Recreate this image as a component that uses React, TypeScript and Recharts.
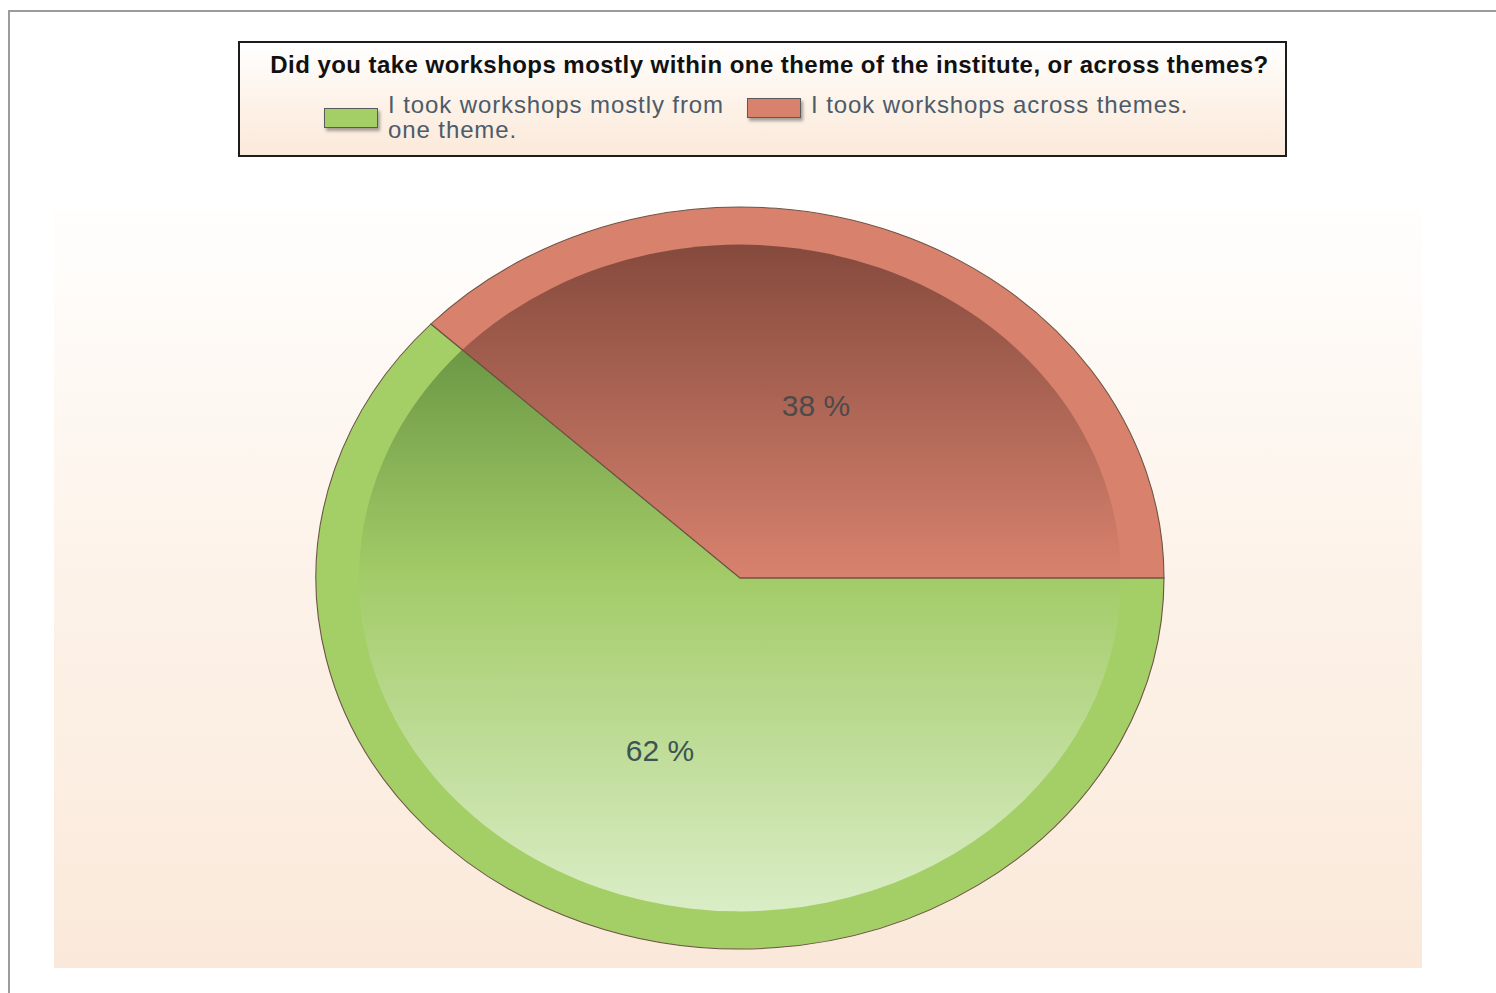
import React from "react"
import { PieChart, Pie, Cell } from "recharts"

// chart data
const TITLE = "Did you take workshops mostly within one theme of the institute, or across themes?"
const CATEGORIES = ["I took workshops mostly from one theme.", "I took workshops across themes."]
const VALUES = [62, 38]
const RING_COLORS = ["#a3cf66", "#d8826e"]
const LABEL_COLORS = ["#3b5454", "#4e4a4a"]

const data = CATEGORIES.map((name, i) => ({ name, value: VALUES[i] }))

// pie is drawn as a circle and squashed vertically to an ellipse
const K = 371 / 424
const SIZE = 1000
const R_OUT = 424
const R_IN = 381
const RADIAN = Math.PI / 180

const renderLabel = (props: any) => {
  const { cx, cy, midAngle, percent, index } = props
  const r = 212
  const x = cx + r * Math.cos(-midAngle * RADIAN)
  const y = cy + r * Math.sin(-midAngle * RADIAN)
  return (
    <g transform={`translate(${x - 2},${y}) scale(1, ${1 / K})`}>
      <text
        x={0}
        y={0}
        textAnchor="middle"
        dominantBaseline="central"
        fill={LABEL_COLORS[index]}
        style={{ fontFamily: "'Liberation Sans', Arial, sans-serif", fontSize: 30 }}
      >
        {`${Math.round(percent * 100)} %`}
      </text>
    </g>
  )
}

export default function App() {
  return (
    <div style={{ position: "absolute", left: 0, top: 0, width: 1496, height: 993, overflow: "hidden", background: "#fff" }}>
      {/* outer frame */}
      <div style={{ position: "absolute", left: 8, top: 10, width: 1700, height: 1200, border: "2px solid #9c9c9c" }} />

      {/* plot area background */}
      <div
        style={{
          position: "absolute", left: 54, top: 210, width: 1368, height: 758,
          background: "linear-gradient(to bottom, #fffefd 0%, #fdf3ea 45%, #fae9da 100%)",
        }}
      />

      {/* legend box */}
      <div
        style={{
          position: "absolute", left: 238, top: 41, width: 1045, height: 112,
          border: "2px solid #1c1c1c",
          background: "linear-gradient(to bottom, #ffffff 0%, #fdf1e6 60%, #fbe9da 100%)",
          fontFamily: "'Liberation Sans', Arial, sans-serif",
        }}
      >
        <div style={{ position: "absolute", left: 14, right: 0, top: 8, textAlign: "center", fontWeight: "bold", fontSize: 24, letterSpacing: 0.45, color: "#111", whiteSpace: "nowrap" }}>
          {TITLE}
        </div>
        {CATEGORIES.map((c, i) => (
          <div key={c} style={{ position: "absolute", left: i === 0 ? 84 : 507, top: 49 }}>
            <div
              style={{
                position: "absolute", left: 0, top: i === 0 ? 16 : 6, width: 52, height: 18,
                background: RING_COLORS[i], border: "1px solid #5a5a5a",
                boxShadow: "2px 3px 3px rgba(0,0,0,0.35)",
              }}
            />
            <div style={{ position: "absolute", left: 64, top: 0, width: i === 0 ? 350 : 440, fontSize: 24, letterSpacing: 0.9, lineHeight: "25px", color: "#4c5b6a" }}>
              {c}
            </div>
          </div>
        ))}
      </div>

      {/* elliptical pie */}
      <div
        style={{
          position: "absolute", left: 740 - SIZE / 2, top: 578 - SIZE / 2, width: SIZE, height: SIZE,
          transform: `scaleY(${K})`, transformOrigin: "50% 50%",
        }}
      >
        <PieChart width={SIZE} height={SIZE} margin={{ top: 0, right: 0, bottom: 0, left: 0 }}>
          <defs>
            <linearGradient id="gradGreen" gradientUnits="userSpaceOnUse" x1="0" y1={SIZE / 2 - R_IN * 0.69} x2="0" y2={SIZE / 2 + R_IN}>
              <stop offset="0%" stopColor="#6c9845" />
              <stop offset="40%" stopColor="#a2cb67" />
              <stop offset="100%" stopColor="#daedc6" />
            </linearGradient>
            <linearGradient id="gradRed" gradientUnits="userSpaceOnUse" x1="0" y1={SIZE / 2 - R_IN} x2="0" y2={SIZE / 2}>
              <stop offset="0%" stopColor="#854a3d" />
              <stop offset="100%" stopColor="#d8826e" />
            </linearGradient>
          </defs>
          <Pie
            data={data}
            dataKey="value"
            cx={SIZE / 2}
            cy={SIZE / 2}
            outerRadius={R_OUT}
            startAngle={0}
            endAngle={-360}
            stroke="none"
            isAnimationActive={false}
          >
            {data.map((d, i) => (
              <Cell key={d.name} fill={RING_COLORS[i]} />
            ))}
          </Pie>
          <Pie
            data={data}
            dataKey="value"
            cx={SIZE / 2}
            cy={SIZE / 2}
            outerRadius={R_IN}
            startAngle={0}
            endAngle={-360}
            stroke="none"
            isAnimationActive={false}
          >
            {data.map((d, i) => (
              <Cell key={d.name} fill={i === 0 ? "url(#gradGreen)" : "url(#gradRed)"} />
            ))}
          </Pie>
          <Pie
            data={data}
            dataKey="value"
            cx={SIZE / 2}
            cy={SIZE / 2}
            outerRadius={R_OUT}
            startAngle={0}
            endAngle={-360}
            fill="none"
            stroke="#6e5444"
            strokeWidth={1.1}
            label={renderLabel}
            labelLine={false}
            isAnimationActive={false}
          >
            {data.map((d) => (
              <Cell key={d.name} fill="none" />
            ))}
          </Pie>
        </PieChart>
      </div>
    </div>
  )
}
